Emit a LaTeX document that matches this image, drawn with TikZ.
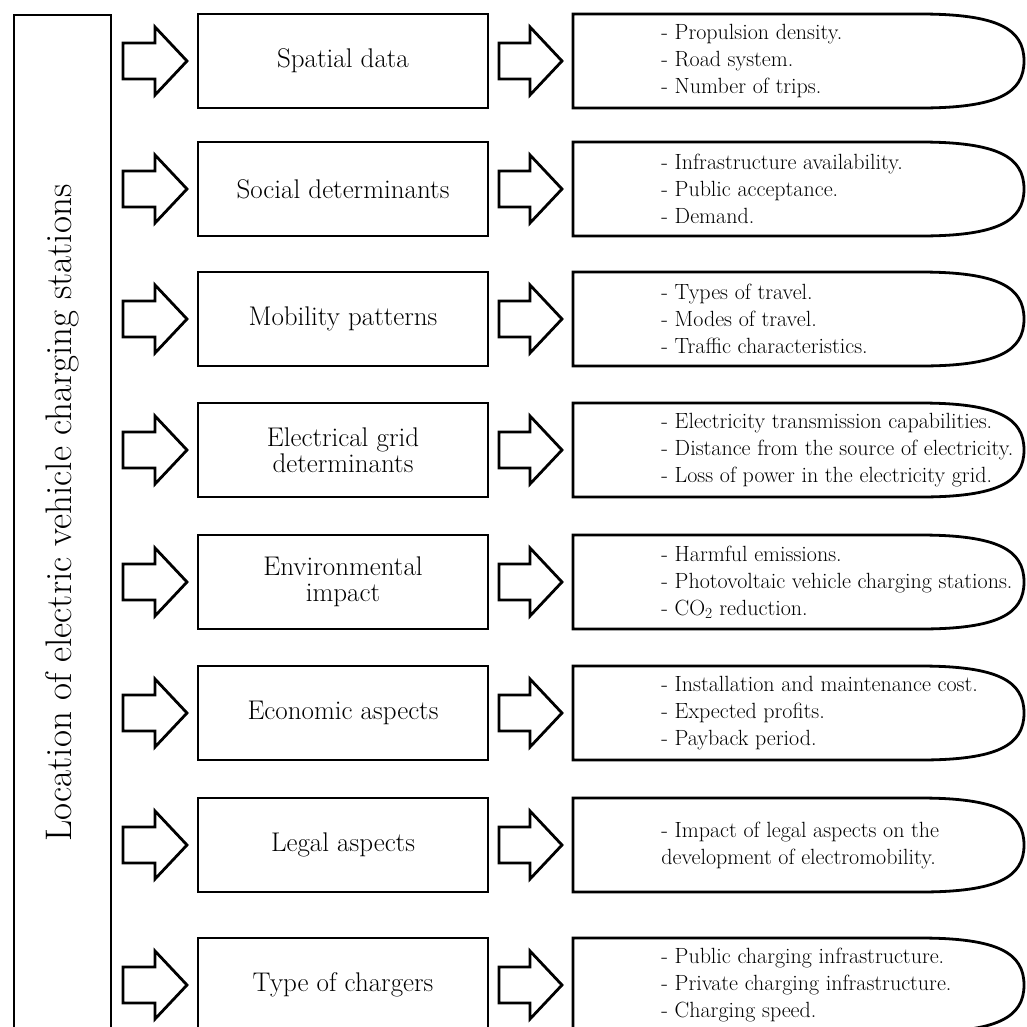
\documentclass[tikz,border=0pt]{standalone}
\begin{document}
\begin{tikzpicture}[x=1pt,y=-1pt,line width=2.8pt]
    \tikzset{
        midbox/.style={draw, minimum width=290pt, minimum height=94pt, inner sep=0pt,
            align=center, font=\fontsize{27}{26}\selectfont},
        listtext/.style={anchor=west, align=left, inner sep=0pt,
            font=\fontsize{22}{27}\selectfont},
        titletext/.style={rotate=90, inner sep=0pt, font=\fontsize{37}{40}\selectfont}
    }
    \useasboundingbox (0,0) rectangle (1027,1026);
    
    \draw (14,15) rectangle (111,1050);
    \node[titletext] (title) at (62.5,513) {Location of electric vehicle charging stations};
    
    \foreach \y/\factor/\items [count=\i] in {
        61/{Spatial data}/{- Propulsion density.\\- Road system.\\- Number of trips.},
        189/{Social determinants}/{- Infrastructure availability.\\- Public acceptance.\\- Demand.},
        319/{Mobility patterns}/{- Types of travel.\\- Modes of travel.\\- Traffic characteristics.},
        450/{Electrical grid\\determinants}/{- Electricity transmission capabilities.\\- Distance from the source of electricity.\\- Loss of power in the electricity grid.},
        582/{Environmental\\impact}/{- Harmful emissions.\\- Photovoltaic vehicle charging stations.\\- CO\textsubscript{2} reduction.},
        713/{Economic aspects}/{- Installation and maintenance cost.\\- Expected profits.\\- Payback period.},
        845/{Legal aspects}/{- Impact of legal aspects on the\\development of electromobility.},
        985/{Type of chargers}/{- Public charging infrastructure.\\- Private charging infrastructure.\\- Charging speed.}} {
        % block arrows
        \draw (123,\y-18) -- ++(32,0) -- ++(0,-16) -- ++(32,34) -- ++(-32,34) -- ++(0,-16) -- ++(-32,0) -- cycle;
        \draw (499,\y-18) -- ++(31,0) -- ++(0,-16) -- ++(32,34) -- ++(-32,34) -- ++(0,-16) -- ++(-31,0) -- cycle;
        \node[midbox] (factor\i) at (343,\y) {\factor};
        % rounded list box
        \draw (573,\y-47) -- (920,\y-47) .. controls (998,\y-47) and (1024,\y-32) .. (1024,\y)
            .. controls (1024,\y+32) and (998,\y+47) .. (920,\y+47) -- (573,\y+47) -- cycle;
        \node[listtext] (list\i) at (660,\y) {\items};
    }
\end{tikzpicture}
\end{document}
